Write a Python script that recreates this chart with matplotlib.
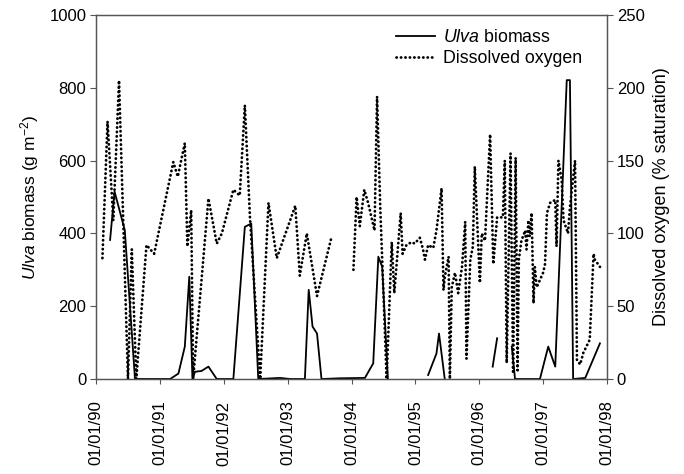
import matplotlib.pyplot as plt
import numpy as np

plt.rcParams['font.family'] = ['Liberation Sans', 'DejaVu Sans']
plt.rcParams['mathtext.fontset'] = 'custom'
plt.rcParams['mathtext.rm'] = 'Liberation Sans'
plt.rcParams['mathtext.it'] = 'Liberation Sans:italic'

nan = np.nan

# Ulva biomass (g m-2), time in decimal years
ulva_t = [1990.22, 1990.29, 1990.45, 1990.61, 1991.16, 1991.29, 1991.39, 1991.46,
          1991.51, 1991.55, 1991.65, 1991.76, 1991.89, 1992.15, 1992.33, 1992.43,
          1992.54, 1992.88, 1993.04, 1993.27, 1993.33, 1993.39, 1993.46, 1993.53,
          1993.82, 1994.21, 1994.34, 1994.42, 1994.48, 1994.57, 1994.90,
          1995.20, 1995.33, 1995.37, 1995.46, 1995.80,
          1996.21, 1996.28, 1996.40,
          1996.51, 1996.56, 1996.95, 1997.08, 1997.19, 1997.37, 1997.42, 1997.47,
          1997.66, 1997.89]
ulva = [382, 515, 409, 0, 0, 15, 89, 281,
        0, 20, 22, 34, 0, 0, 418, 427,
        0, 3, 0, 0, 245, 144, 125, 0,
        2, 3, 43, 336, 308, 0, nan,
        11, 70, 125, 0, nan,
        34, 112, nan,
        89, 0, 0, 89, 34, 821, 821, 0,
        3, 98]

# Dissolved oxygen (% saturation)
do_t = [1990.10, 1990.18, 1990.27, 1990.36, 1990.50, 1990.56, 1990.63, 1990.79,
        1990.91, 1991.21, 1991.28, 1991.39, 1991.43, 1991.49, 1991.52, 1991.76,
        1991.89, 1991.97, 1992.15, 1992.25, 1992.33, 1992.41, 1992.57, 1992.70,
        1992.83, 1993.12, 1993.19, 1993.30, 1993.46, 1993.69, 1993.85,
        1994.03, 1994.08, 1994.13, 1994.20, 1994.26, 1994.36, 1994.40, 1994.45,
        1994.55, 1994.63, 1994.67, 1994.77, 1994.80, 1994.86, 1994.94, 1994.99,
        1995.07, 1995.12, 1995.15, 1995.20, 1995.28, 1995.33, 1995.41, 1995.44,
        1995.46, 1995.52, 1995.54, 1995.57, 1995.62, 1995.67, 1995.73, 1995.78,
        1995.80, 1995.86, 1995.90, 1995.93, 1996.01, 1996.04, 1996.09, 1996.17,
        1996.22, 1996.28, 1996.37, 1996.40, 1996.43, 1996.49, 1996.53, 1996.57,
        1996.60, 1996.62, 1996.66, 1996.72, 1996.74, 1996.77, 1996.79, 1996.82,
        1996.85, 1996.87, 1996.90, 1996.95, 1997.00, 1997.03, 1997.06, 1997.11,
        1997.19, 1997.21, 1997.24, 1997.29, 1997.32, 1997.39, 1997.42, 1997.50,
        1997.53, 1997.58, 1997.63, 1997.73, 1997.79, 1997.81, 1997.89]
oxygen = [83, 177, 109, 205, 0, 89, 0, 92,
          86, 149, 139, 162, 91, 116, 0, 124,
          93, 100, 130, 126, 188, 111, 0, 121,
          83, 119, 71, 100, 57, 98, nan,
          75, 125, 105, 130, 121, 102, 194, 118,
          0, 94, 59, 114, 86, 92, 94, 93,
          97, 89, 82, 92, 90, 102, 131, 61,
          70, 84, 0, 63, 73, 59, 77, 108,
          14, 82, 91, 146, 66, 100, 95, 168,
          79, 111, 111, 150, 11, 155, 5, 152,
          6, 82, 95, 102, 89, 109, 98, 114,
          52, 77, 63, 68, 73, 79, 114, 121,
          123, 91, 150, 137, 109, 100, 118, 150,
          13, 10, 18, 27, 86, 82, 77]

years = np.arange(1990, 1999)
year_labels = ['01/01/%02d' % (y % 100) for y in years]

fig = plt.figure(figsize=(6.84, 4.74), dpi=100)
ax = fig.add_axes([0.1404, 0.2004, 0.747, 0.768])
ax2 = ax.twinx()

l1, = ax.plot(ulva_t, ulva, color='black', linewidth=1.3)
l2, = ax2.plot(do_t, oxygen, color='black', linewidth=2.0,
               linestyle=(0, (0.1, 1.5)), dash_capstyle='round')

ax.set(xlim=(1990, 1998), ylim=(0, 1000), yticks=np.arange(0, 1001, 200))
ax2.set(ylim=(0, 250), yticks=np.arange(0, 251, 50))
ax.set_xticks(years)
ax.set_xticklabels(year_labels, rotation=90)

for a in (ax, ax2):
    a.tick_params(direction='out', length=4.5, width=0.8, labelsize=12, pad=2.5,
                  color='#555555')
    for s in a.spines.values():
        s.set_color('#555555')
        s.set_linewidth(0.9)
ax.tick_params(axis='x', length=3.5, pad=12)

ax.set_ylabel(r'$\it{Ulva}$ biomass (g m$^{-2}$)', fontsize=12.5, labelpad=6)
ax2.set_ylabel('Dissolved oxygen (% saturation)', fontsize=13, labelpad=6)

ax2.legend([l1, l2], [r'$\it{Ulva}$ biomass', 'Dissolved oxygen'],
           loc='upper right', bbox_to_anchor=(0.965, 0.981), frameon=False,
           fontsize=12.8, handlelength=2.2, handletextpad=0.45,
           labelspacing=0.25, borderaxespad=0, borderpad=0.4)

fig.savefig('out.png', dpi=100)
